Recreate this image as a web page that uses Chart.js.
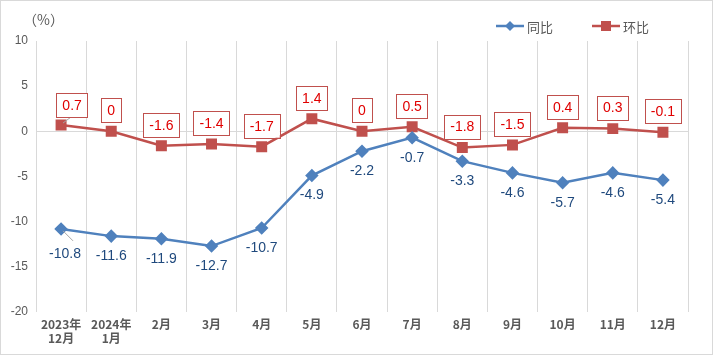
<!DOCTYPE html>
<html><head><meta charset="utf-8">
<script src="https://cdn.jsdelivr.net/npm/chart.js@4"></script>
<style>html,body{margin:0;padding:0;background:#fff}#wrap{width:711px;height:353px;border:1px solid #d9d9d9;position:relative}</style>
</head><body><div id="wrap"><canvas id="c" width="711" height="353"></canvas></div>
<script>
const categories = [['2023年','12月'],['2024年','1月'],'2月','3月','4月','5月','6月','7月','8月','9月','10月','11月','12月'];
const yoyName = '同比';
const momName = '环比';
const yoyValues = [-10.8,-11.6,-11.9,-12.7,-10.7,-4.9,-2.2,-0.7,-3.3,-4.6,-5.7,-4.6,-5.4];
const momValues = [0.7,0,-1.6,-1.4,-1.7,1.4,0,0.5,-1.8,-1.5,0.4,0.3,-0.1];
const yTicks = [10,5,0,-5,-10,-15,-20];
const unitLabel = '（%）';

const BLUE = '#4F81BD', RED = '#C0504D';
const numFont = '"Liberation Sans", Arial, sans-serif';
const cjkFont = '"Noto Sans CJK SC", "Noto Sans", sans-serif';

const labelPlugin = {
  id: 'labels',
  afterDatasetsDraw(chart) {
    const ctx = chart.ctx;
    ctx.save();
    // yoy labels below
    const m0 = chart.getDatasetMeta(0);
    ctx.font = '14px ' + numFont;
    ctx.textAlign = 'center';
    ctx.textBaseline = 'middle';
    m0.data.forEach((p, i) => {
      let x = p.x, y = p.y + 20;
      if (i === 0) {
        ctx.strokeStyle = '#a6a6a6'; ctx.lineWidth = 1;
        ctx.beginPath(); ctx.moveTo(p.x + 2, p.y + 2); ctx.lineTo(p.x + 12, p.y + 12); ctx.stroke();
        x = p.x + 4; y = p.y + 25;
      }
      ctx.fillStyle = '#1F497D';
      ctx.fillText(String(yoyValues[i]), x, y);
    });
    // mom labels above in boxes
    const m1 = chart.getDatasetMeta(1);
    m1.data.forEach((p, i) => {
      const txt = String(momValues[i]);
      let cx = p.x, cy = p.y - 21;
      if (i === 0) {
        cx = p.x + 11; cy = p.y - 20;
        ctx.strokeStyle = '#a6a6a6'; ctx.lineWidth = 1;
        ctx.beginPath(); ctx.moveTo(p.x + 2, p.y - 2); ctx.lineTo(p.x + 10, p.y - 8); ctx.stroke();
      }
      const w = ctx.measureText(txt).width + 12, h = 24;
      ctx.fillStyle = '#fff';
      ctx.fillRect(cx - w / 2, cy - h / 2, w, h);
      ctx.strokeStyle = RED; ctx.lineWidth = 1;
      ctx.strokeRect(Math.round(cx - w / 2) + 0.5, Math.round(cy - h / 2) + 0.5, Math.round(w), h);
      ctx.fillStyle = '#E00000';
      ctx.fillText(txt, cx, cy + 1);
    });
    ctx.restore();
  },
  afterDraw(chart) {
    const ctx = chart.ctx;
    ctx.save();
    ctx.fillStyle = '#595959';
    ctx.font = '14px ' + cjkFont;
    ctx.textBaseline = 'middle';
    ctx.textAlign = 'left';
    ctx.fillText(unitLabel, 22, 19);
    // legend
    const items = [[yoyName, BLUE, 'diamond', 495], [momName, RED, 'square', 591]];
    items.forEach(([name, col, shape, x]) => {
      const y = 25;
      ctx.strokeStyle = col; ctx.lineWidth = 2.5;
      ctx.beginPath(); ctx.moveTo(x, y); ctx.lineTo(x + 28, y); ctx.stroke();
      ctx.fillStyle = col;
      const cx = x + 14;
      if (shape === 'diamond') {
        ctx.beginPath(); ctx.moveTo(cx, y - 5); ctx.lineTo(cx + 5, y); ctx.lineTo(cx, y + 5); ctx.lineTo(cx - 5, y); ctx.closePath(); ctx.fill();
      } else {
        ctx.fillRect(cx - 5, y - 5, 10, 10);
      }
      ctx.fillStyle = '#595959';
      ctx.font = '13px ' + cjkFont;
      ctx.fillText(name, x + 31, y + 1);
    });
    ctx.restore();
  }
};

new Chart(document.getElementById('c'), {
  type: 'line',
  data: {
    labels: categories,
    datasets: [
      { label: yoyName, data: yoyValues, borderColor: BLUE, backgroundColor: BLUE, borderWidth: 2.5,
        pointStyle: 'rectRot', pointRadius: 5, pointHoverRadius: 5, tension: 0 },
      { label: momName, data: momValues, borderColor: RED, backgroundColor: RED, borderWidth: 2.5,
        pointStyle: 'rect', pointRadius: 6, pointHoverRadius: 6, tension: 0 }
    ]
  },
  options: {
    responsive: false,
    animation: false,
    events: [],
    layout: { padding: { top: 40, right: 24, bottom: 0, left: 0 } },
    plugins: { legend: { display: false }, tooltip: { enabled: false } },
    scales: {
      x: {
        offset: true,
        grid: { offset: true, color: '#d9d9d9', lineWidth: 1, drawTicks: false },
        border: { display: false },
        ticks: { color: '#595959', font: { family: cjkFont, size: 12, weight: 'bold' }, padding: 5, maxRotation: 0, autoSkip: false },
        afterFit(s) { s.height = 42; }
      },
      y: {
        min: -20, max: 10,
        afterBuildTicks(s) { s.ticks = yTicks.map(v => ({ value: v })); },
        grid: { color: ctx => (ctx.tick && ctx.tick.value === 0) ? '#d9d9d9' : 'rgba(0,0,0,0)', drawTicks: false },
        border: { display: false },
        ticks: { color: '#595959', font: { family: numFont, size: 12 }, padding: 8 },
        afterFit(s) { s.width = 35; }
      }
    }
  },
  plugins: [labelPlugin]
});
</script></body></html>
